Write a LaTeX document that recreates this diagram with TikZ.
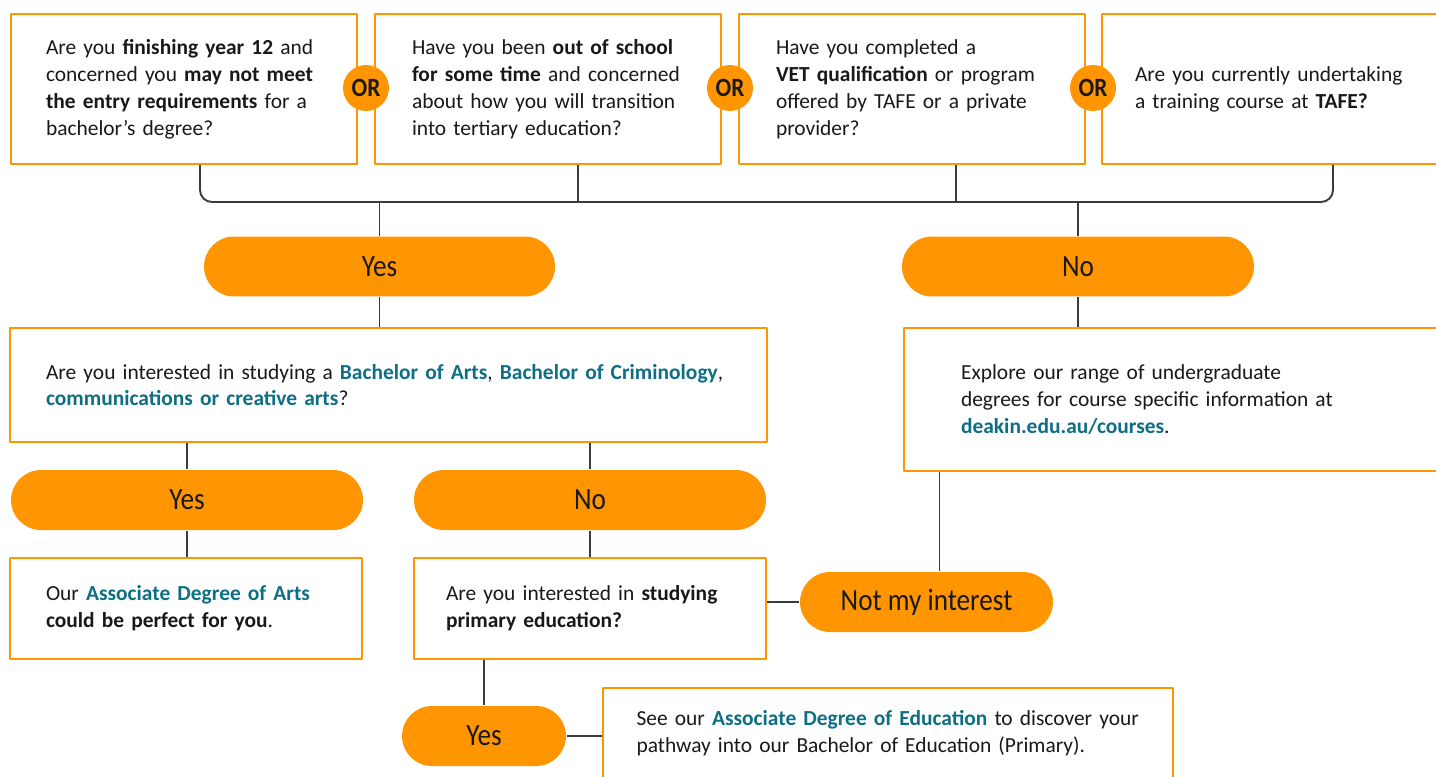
\documentclass[tikz,border=0pt]{standalone}
\usepackage{fontspec}
\setmainfont{Carlito}
\newfontfamily\pillfont[FakeStretch=0.88]{Carlito}
\definecolor{dorange}{RGB}{255,149,0}
\definecolor{dteal}{RGB}{14,110,132}
\definecolor{dline}{RGB}{60,60,60}
\definecolor{dtext}{RGB}{25,25,25}
\newcommand{\kurs}[1]{\textcolor{dteal}{\textbf{#1}}}

\begin{document}
\begin{tikzpicture}[line width = 1.1pt, line join=round, x=0.02cm, y=-0.02cm,
	frage/.style={rectangle, draw=dorange, fill=white, align=left, inner sep=0pt, text=dtext,
		font=\fontsize{12.2}{15.3}\selectfont},
	pill/.style={rectangle, fill=dorange, rounded corners=0.6cm, minimum height=1.2cm, text=dtext,
		font=\pillfont\fontsize{17.6}{20}\selectfont},
	orsign/.style={circle, fill=dorange, minimum size=0.92cm, inner sep=0pt, text=dtext,
		font=\pillfont\bfseries\fontsize{15}{15}\selectfont},
	conn/.style={draw=dline}]
	\clip (0,0) rectangle (1436,777);
	% Einstiegsfragen
	\node [frage, minimum width=6.92cm, minimum height=3cm, text width=5.52cm] (qA) at (184,89)
		{Are you \textbf{finishing year 12} and\\concerned you \textbf{may not meet}\\\textbf{the entry requirements} for a\\bachelor’s degree?};
	\node [frage, minimum width=6.92cm, minimum height=3cm, text width=5.44cm] (qB) at (548,89)
		{Have you been \textbf{out of school}\\\textbf{for some time} and concerned\\about how you will transition\\into tertiary education?};
	\node [frage, minimum width=6.92cm, minimum height=3cm, text width=5.44cm] (qC) at (912,89)
		{Have you completed a\\\textbf{VET qualification} or program\\offered by TAFE or a private\\provider?};
	\node [frage, minimum width=6.92cm, minimum height=3cm, text width=5.6cm] (qD) at (1275,89)
		{Are you currently undertaking\\a training course at \textbf{TAFE?}};
	\node [orsign] (orA) at (366,88) {OR};
	\node [orsign] (orB) at (730,88) {OR};
	\node [orsign] (orC) at (1093,88) {OR};
	% Klammer
	\coordinate (jL) at (200,202);
	\coordinate (jB) at (578,202);
	\coordinate (jC) at (956,202);
	\coordinate (jR) at (1333,202);
	\draw [conn, rounded corners=0.24cm] (qA.south -| jL) -- (jL) -- (jR) -- (qD.south -| jR);
	\draw [conn] (qB.south -| jB) -- (jB);
	\draw [conn] (qC.south -| jC) -- (jC);
	% Ja / Nein
	\node [pill, minimum width=7.02cm] (yesA) at (379.5,266.5) {Yes};
	\node [pill, minimum width=7.04cm] (noA) at (1078,266.5) {No};
	\draw [conn] (yesA.north |- jL) -- (yesA.north);
	\draw [conn] (noA.north |- jL) -- (noA.north);
	\node [frage, minimum width=15.14cm, minimum height=2.28cm, text width=13.7cm] (qArts) at (388.5,385)
		{Are you interested in studying a \kurs{Bachelor of Arts}, \kurs{Bachelor of Criminology},\\\kurs{communications or creative arts}?};
	\node [frage, minimum width=11.2cm, minimum height=2.86cm, text width=8.92cm] (explore) at (1184,399.5)
		{Explore our range of undergraduate\\degrees for course specific information at\\\kurs{deakin.edu.au/courses}.};
	\draw [conn] (yesA.south) -- (qArts.north -| yesA);
	\draw [conn] (noA.south) -- (explore.north -| noA);
	% zweite Ebene
	\node [pill, minimum width=7.04cm] (yesB) at (187,500) {Yes};
	\node [pill, minimum width=7.04cm] (noB) at (590,500) {No};
	\draw [conn] (qArts.south -| yesB) -- (yesB.north);
	\draw [conn] (qArts.south -| noB) -- (noB.north);
	\node [frage, minimum width=7.04cm, minimum height=2.02cm, text width=5.6cm] (ada) at (186,608.5)
		{Our \kurs{Associate Degree of Arts}\\\textbf{could be perfect for you}.};
	\node [frage, minimum width=7.04cm, minimum height=2.02cm, text width=5.76cm] (qPrim) at (590,608.5)
		{Are you interested in \textbf{studying}\\\textbf{primary education?}};
	\draw [conn] (yesB.south) -- (ada.north -| yesB);
	\draw [conn] (noB.south) -- (qPrim.north -| noB);
	\node [pill, minimum width=5.06cm] (notint) at (926.5,602) {Not my interest};
	\draw [conn] (qPrim.east |- notint) -- (notint.west);
	\draw [conn] ([xshift=0.26cm]notint.north |- explore.south) -- ([xshift=0.26cm]notint.north);
	% Lehramt
	\node [pill, minimum width=3.28cm] (yesC) at (484,736) {Yes};
	\node [frage, minimum width=11.4cm, minimum height=1.8cm, text width=10.06cm] (ade) at (888,733)
		{See our \kurs{Associate Degree of Education} to discover your\\pathway into our Bachelor of Education (Primary).};
	\draw [conn] (qPrim.south -| yesC) -- (yesC.north);
	\draw [conn] (yesC.east) -- (yesC.east -| ade.west);
\end{tikzpicture}
\end{document}
